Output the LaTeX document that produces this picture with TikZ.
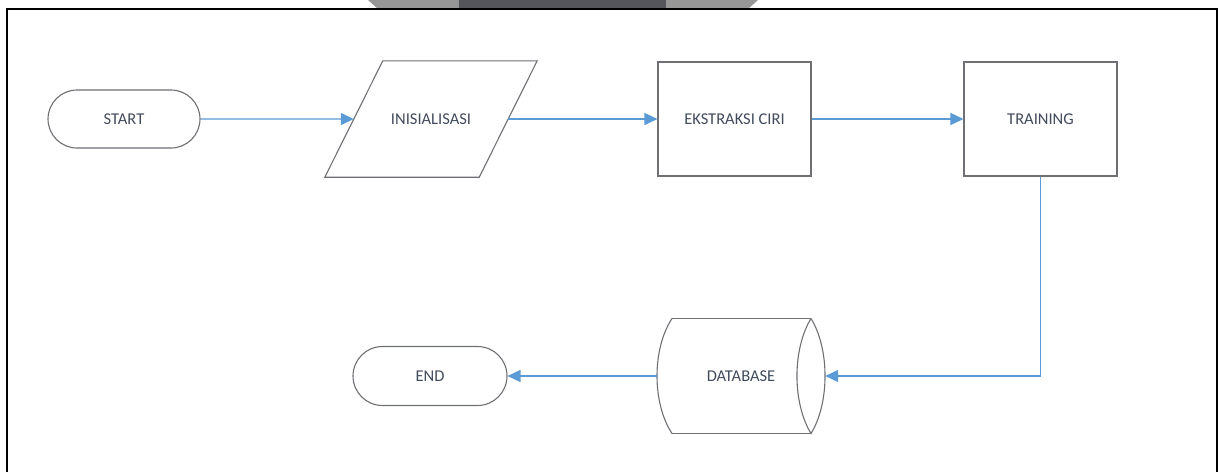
\documentclass[tikz,border=0pt]{standalone}
\usepackage{fontspec}
\setmainfont{Carlito}
\usetikzlibrary{shapes.misc,arrows.meta,calc}
\definecolor{shapeline}{RGB}{110,112,116}
\definecolor{connblue}{RGB}{91,155,213}
\definecolor{txtcol}{RGB}{66,76,92}
\definecolor{tablight}{RGB}{151,151,151}
\definecolor{tabdark}{RGB}{85,86,91}
\tikzset{
  lbl/.style={text=txtcol,font=\fontsize{16.5}{19}\selectfont},
  term/.style={lbl,rounded rectangle,draw=shapeline,line width=1.1pt,minimum width=152pt,minimum height=58pt,inner sep=0pt},
  proc/.style={lbl,rectangle,draw=shapeline,line width=1.1pt,minimum width=153pt,minimum height=114pt,inner sep=0pt},
  ghost/.style={lbl,rectangle,draw=none,inner sep=0pt},
  outline/.style={draw=shapeline,line width=1.1pt},
  conn/.style={draw=connblue,line width=1.3pt,-{Triangle[length=13pt,width=12pt]}},
  frameline/.style={draw=black,line width=2.2pt}
}
\begin{document}
\begin{tikzpicture}[x=1pt,y=-1pt]
\useasboundingbox (0,0) rectangle (1219,472);
\fill[white] (0,0) rectangle (1219,472);
% tab at top
\fill[tablight] (368,0) -- (758,0) -- (748,9) -- (378,9) -- cycle;
\fill[tabdark] (459,0) rectangle (666,9);
% frame
\draw[frameline] (7,472) -- (7,9) -- (1217,9) -- (1217,472);
% nodes
\node[term] (start) at (124,119) {START};
\node[ghost,minimum width=154pt,minimum height=116pt] (inis) at (431,119) {INISIALISASI};
\draw[outline] ($(inis.north west)+(29,0)$) -- ($(inis.north east)+(29,0)$)
  -- ($(inis.south east)+(-29,0)$) -- ($(inis.south west)+(-29,0)$) -- cycle;
\node[proc] (eks) at (734.5,119) {EKSTRAKSI CIRI};
\node[proc] (train) at (1040.5,119) {TRAINING};
\node[ghost,minimum width=168pt,minimum height=115pt] (db) at (741,376) {DATABASE};
\begin{scope}[shift={(db.center)}]
  \draw[outline] (-69,-57.5) -- (70,-57.5) (-69,57.5) -- (70,57.5);
  \draw[outline] (-69,-57.5) .. controls (-89,-27) and (-89,27) .. (-69,57.5);
  \draw[outline] (70,-57.5) .. controls (51.3,-27) and (51.3,27) .. (70,57.5)
                 .. controls (88.7,27) and (88.7,-27) .. (70,-57.5);
\end{scope}
\node[term,minimum width=154pt,minimum height=59pt] (end) at (430,376) {END};
% connectors
\draw[conn] (start) -- (inis);
\draw[conn] (inis) -- (eks);
\draw[conn] (eks) -- (train);
\draw[conn] (train.south) |- (db.east);
\draw[conn] (db.west) -- (end.east);
\end{tikzpicture}
\end{document}
